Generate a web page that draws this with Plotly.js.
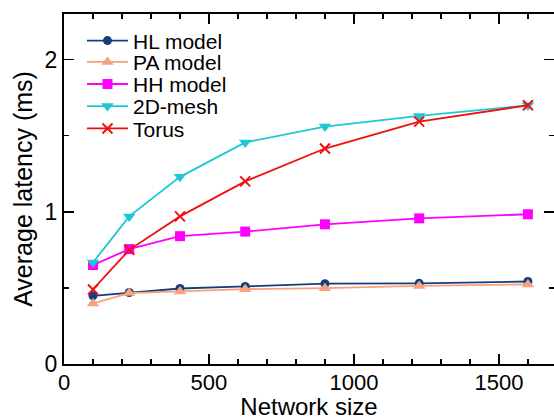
<!DOCTYPE html>
<html>
<head>
<meta charset="utf-8">
<script src="https://cdn.plot.ly/plotly-3.0.1.min.js"></script>
<style>html,body{margin:0;padding:0;background:#fff;}#chart{width:554px;height:420px;}</style>
</head>
<body>
<div id="chart"></div>
<script>
const networkSize = [100, 225, 400, 625, 900, 1225, 1600];
const hlModel = [0.448, 0.47, 0.496, 0.51, 0.528, 0.53, 0.542];
const paModel = [0.398, 0.466, 0.477, 0.492, 0.498, 0.513, 0.523];
const hhModel = [0.65, 0.755, 0.84, 0.87, 0.918, 0.957, 0.984];
const mesh2D = [0.667, 0.97, 1.23, 1.456, 1.56, 1.63, 1.70];
const torus = [0.49, 0.75, 0.97, 1.20, 1.416, 1.593, 1.70];

const seriesNames = ['HL model', 'PA model', 'HH model', '2D-mesh', 'Torus'];
const seriesValues = [hlModel, paModel, hhModel, mesh2D, torus];
const colors = ['#173d7c', '#f6a27c', '#ff00ff', '#1ec8d2', '#f01010'];
const symbols = ['circle', 'triangle-up', 'square', 'triangle-down', 'x-thin'];
const markerSizes = [9, 11, 10, 11, 10];
const legendIds = ['legend', 'legend2', 'legend3', 'legend4', 'legend5'];
const legendRowY = [0.923, 0.862, 0.799, 0.736, 0.672];

const traces = seriesNames.map((name, i) => ({
  x: networkSize,
  y: seriesValues[i],
  name: name,
  legend: legendIds[i],
  type: 'scatter',
  mode: 'lines+markers',
  line: {color: colors[i], width: 1.8},
  marker: {
    symbol: symbols[i],
    color: colors[i],
    size: markerSizes[i],
    line: {color: colors[i], width: symbols[i] === 'x-thin' ? 2 : 0}
  }
}));

const fontFam = 'Liberation Sans, Arial, sans-serif';
const layout = {
  width: 554, height: 420,
  margin: {l: 64, r: 0, t: 14, b: 56},
  paper_bgcolor: '#fff', plot_bgcolor: '#fff',
  font: {family: fontFam, color: '#000'},
  showlegend: true,
  xaxis: {
    range: [0, 1690],
    tickvals: [0, 500, 1000, 1500],
    ticks: 'inside', ticklen: 10, tickwidth: 1.5, tickcolor: '#000',
    minor: {dtick: 100, ticks: 'inside', ticklen: 5, tickwidth: 1.2, tickcolor: '#000', showgrid: false},
    showline: true, linecolor: '#000', linewidth: 2, mirror: 'allticks',
    showgrid: false, zeroline: false,
    tickfont: {size: 22, family: fontFam},
    ticklabelstandoff: -2,
    title: {text: 'Network size', font: {size: 24, family: fontFam}, standoff: 2}
  },
  yaxis: {
    range: [0, 2.3],
    tickvals: [0, 1, 2],
    ticks: 'inside', ticklen: 10, tickwidth: 1.5, tickcolor: '#000',
    minor: {dtick: 0.5, ticks: 'inside', ticklen: 5, tickwidth: 1.2, tickcolor: '#000', showgrid: false},
    showline: true, linecolor: '#000', linewidth: 2, mirror: 'allticks',
    showgrid: false, zeroline: false,
    tickfont: {size: 23, family: fontFam},
    title: {text: 'Average latency (ms)', font: {size: 25, family: fontFam}, standoff: 5}
  }
};
legendIds.forEach((id, i) => {
  layout[id] = {
    x: 0.0367, y: legendRowY[i], xanchor: 'left', yanchor: 'middle',
    bgcolor: 'rgba(0,0,0,0)',
    font: {size: 21, family: fontFam, color: '#000'},
    itemwidth: 41
  };
});

Plotly.newPlot('chart', traces, layout, {displayModeBar: false, staticPlot: true});
</script>
</body>
</html>
